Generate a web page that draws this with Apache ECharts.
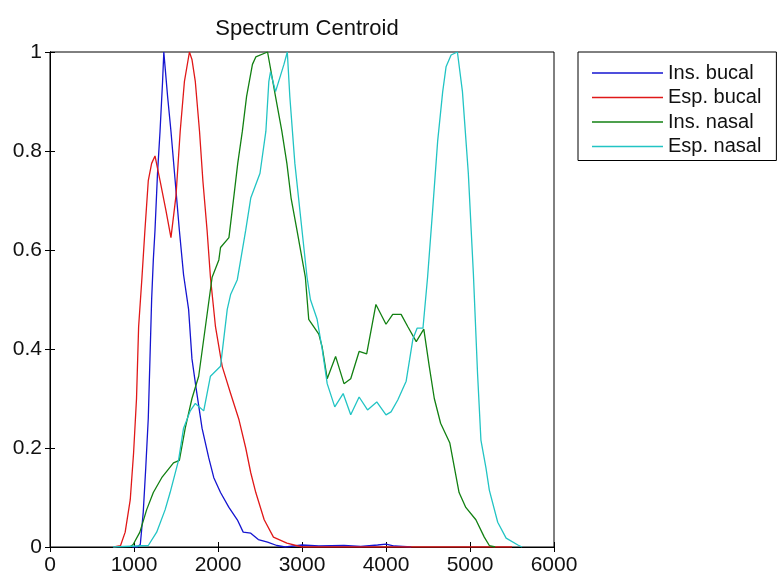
<!DOCTYPE html>
<html>
<head>
<meta charset="utf-8">
<script src="https://cdn.jsdelivr.net/npm/echarts@6/dist/echarts.min.js"></script>
<style>
html,body{margin:0;padding:0;background:#fff;}
#chart{width:784px;height:577px;}
</style>
</head>
<body>
<div id="chart"></div>
<script>
// Ins. bucal
var insBucalF = [980,1040,1075,1110,1140,1170,1190,1210,1230,1250,1280,1310,1340,1355,1370,1400,1440,1490,1540,1590,1650,1690,1740,1810,1890,1950,2030,2130,2230,2300,2390,2480,2590,2700,2800,3000,3200,3500,3700,3900,4000,4100,4300];
var insBucalV = [0,0,0.005,0.07,0.16,0.26,0.38,0.5,0.58,0.64,0.755,0.84,0.94,1.0,0.97,0.91,0.84,0.74,0.64,0.55,0.48,0.38,0.32,0.24,0.18,0.14,0.11,0.08,0.055,0.03,0.028,0.015,0.01,0.003,0,0.004,0.002,0.003,0.001,0.004,0.006,0.002,0];
// Esp. bucal
var espBucalF = [760,840,895,955,995,1030,1055,1095,1130,1170,1210,1250,1310,1380,1440,1500,1550,1600,1660,1690,1730,1780,1820,1870,1910,1970,2050,2150,2250,2330,2390,2450,2550,2660,2820,3000,5500];
var espBucalV = [0,0.003,0.03,0.095,0.19,0.3,0.445,0.545,0.64,0.74,0.775,0.79,0.74,0.68,0.625,0.71,0.84,0.94,1.0,0.985,0.94,0.84,0.74,0.64,0.545,0.445,0.365,0.31,0.257,0.2,0.15,0.11,0.055,0.02,0.008,0,0];
// Ins. nasal
var insNasalF = [950,990,1070,1150,1230,1330,1470,1540,1610,1690,1770,1850,1930,2010,2030,2130,2190,2235,2290,2340,2410,2450,2590,2610,2685,2760,2820,2870,2940,3040,3080,3200,3240,3300,3400,3500,3580,3680,3770,3880,4000,4080,4180,4260,4360,4450,4515,4575,4650,4760,4870,4950,5070,5170,5230,5300];
var insNasalV = [0,0.005,0.03,0.075,0.11,0.14,0.17,0.175,0.24,0.3,0.345,0.445,0.545,0.58,0.605,0.625,0.71,0.775,0.84,0.91,0.975,0.99,1.0,1.0,0.91,0.84,0.775,0.705,0.64,0.545,0.46,0.43,0.404,0.34,0.385,0.33,0.34,0.395,0.39,0.49,0.45,0.47,0.47,0.445,0.415,0.44,0.365,0.3,0.25,0.21,0.11,0.08,0.055,0.02,0.003,0];
// Esp. nasal
var espNasalF = [750,1170,1270,1370,1430,1530,1590,1670,1730,1830,1910,2030,2110,2150,2230,2270,2330,2390,2500,2570,2605,2625,2685,2785,2825,2855,2915,3000,3060,3100,3180,3240,3300,3390,3490,3580,3680,3780,3890,4000,4060,4140,4240,4320,4370,4440,4495,4555,4615,4675,4715,4775,4850,4910,4980,5040,5090,5130,5190,5230,5330,5430,5570,5620];
var espNasalV = [0,0.003,0.03,0.075,0.11,0.175,0.24,0.275,0.29,0.275,0.345,0.365,0.48,0.51,0.54,0.58,0.64,0.705,0.755,0.84,0.94,0.96,0.92,0.975,1.0,0.91,0.775,0.64,0.545,0.5,0.46,0.4,0.33,0.283,0.31,0.267,0.303,0.277,0.293,0.267,0.273,0.297,0.335,0.42,0.442,0.442,0.545,0.68,0.82,0.92,0.97,0.994,1.0,0.92,0.755,0.553,0.35,0.216,0.16,0.115,0.05,0.018,0.004,0];

var xTicks = [0,1000,2000,3000,4000,5000,6000];
var yTicks = [0,0.2,0.4,0.6,0.8,1];
var seriesNames = ['Ins. bucal','Esp. bucal','Ins. nasal','Esp. nasal'];
var seriesColors = ['#1515d0','#e01818','#128012','#22c4c4'];

function pairs(f, v){ var out=[]; for(var i=0;i<f.length;i++){ out.push([f[i], v[i]]); } return out; }
var allData = [pairs(insBucalF,insBucalV), pairs(espBucalF,espBucalV), pairs(insNasalF,insNasalV), pairs(espNasalF,espNasalV)];

var FONT = 'Liberation Sans, Arial, sans-serif';
var chart = echarts.init(document.getElementById('chart'), null, {renderer:'canvas'});
var tickStyle = {show:true, inside:true, length:5, lineStyle:{color:'#000', width:1}};
var option = {
  animation:false,
  backgroundColor:'#fff',
  title:{text:'Spectrum Centroid', left:302, textAlign:'center', top:13,
    textStyle:{fontFamily:FONT, fontSize:22, fontWeight:'normal', color:'#111'}},
  legend:{orient:'vertical', left:578, top:52, padding:[11,15,4,14], itemGap:4.5,
    itemWidth:71, itemHeight:1.5, icon:'rect', borderColor:'#000', borderWidth:1, backgroundColor:'#fff',
    textStyle:{fontFamily:FONT, fontSize:20, color:'#111', lineHeight:20},
    data:seriesNames.map(function(n){ return {name:n, icon:'rect'}; })},
  grid:{left:50, top:52, width:504, height:495, show:true, borderColor:'#000', borderWidth:1, backgroundColor:'#fff'},
  xAxis:[
    {type:'value', min:xTicks[0], max:xTicks[xTicks.length-1], interval:1000, position:'bottom',
     axisLine:{show:true, lineStyle:{color:'#000'}}, axisTick:tickStyle, splitLine:{show:false},
     axisLabel:{fontFamily:FONT, fontSize:21, color:'#111', margin:8, formatter:function(v){ return String(v); }}},
    {type:'value', min:xTicks[0], max:xTicks[xTicks.length-1], interval:1000, position:'top',
     axisLine:{show:true, lineStyle:{color:'#000'}}, axisTick:tickStyle, splitLine:{show:false},
     axisLabel:{show:false}}
  ],
  yAxis:[
    {type:'value', min:yTicks[0], max:yTicks[yTicks.length-1], interval:0.2, position:'left',
     axisLine:{show:true, lineStyle:{color:'#000'}}, axisTick:tickStyle, splitLine:{show:false},
     axisLabel:{fontFamily:FONT, fontSize:21, color:'#111', margin:8, formatter:function(v){ return String(v); }}},
    {type:'value', min:yTicks[0], max:yTicks[yTicks.length-1], interval:0.2, position:'right',
     axisLine:{show:true, lineStyle:{color:'#000'}}, axisTick:tickStyle, splitLine:{show:false},
     axisLabel:{show:false}}
  ],
  series: seriesNames.map(function(n,i){
    return {name:n, type:'line', data:allData[i], symbol:'none', showSymbol:false,
      xAxisIndex:0, yAxisIndex:0, color:seriesColors[i],
      lineStyle:{width:1.3, color:seriesColors[i]}, itemStyle:{color:seriesColors[i]}};
  })
};
chart.setOption(option);
</script>
</body>
</html>
